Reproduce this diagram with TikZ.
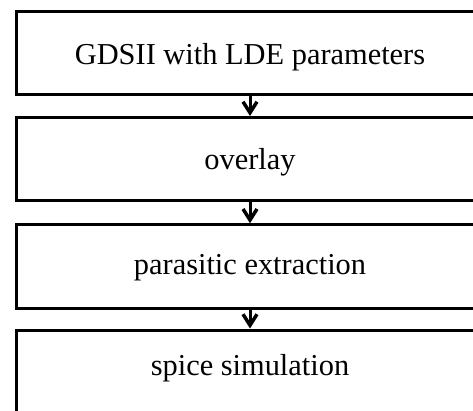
\documentclass[tikz,border=0pt]{standalone}
\usepackage{fontspec}
\setmainfont{Liberation Serif}
\usetikzlibrary{arrows.meta}
\begin{document}
\begin{tikzpicture}[x=1pt,y=-1pt,
  % #1 sets where the baseline sits: half of it below the box centre
  stagebox/.style={draw=black, line width=3pt, minimum width=467pt,
    minimum height=83.5pt, inner sep=0pt, text height=#1, text depth=0pt,
    font=\fontsize{30.4}{34}\selectfont},
  flow/.style={line width=3pt, -{Straight Barb[length=11pt,width=14pt,line width=3.5pt]}}]
  \useasboundingbox (0,0) rectangle (473,411);
  \clip (0,0) rectangle (473,411);
  \fill[white] (0,0) rectangle (473,411);
  \node[stagebox=23.5pt] (gds)   at (250,53.25)  {GDSII with LDE parameters};
  \node[stagebox=21.5pt] (ovl)   at (250,159.25) {overlay};
  \node[stagebox=15pt]   (pex)   at (250,266.5)  {parasitic extraction};
  \node[stagebox=6.5pt]  (spice) at (250,371.75) {spice simulation};
  \draw[flow] (gds.south) -- (ovl.north);
  \draw[flow] (ovl.south) -- (pex.north);
  \draw[flow] (pex.south) -- (spice.north);
\end{tikzpicture}
\end{document}
